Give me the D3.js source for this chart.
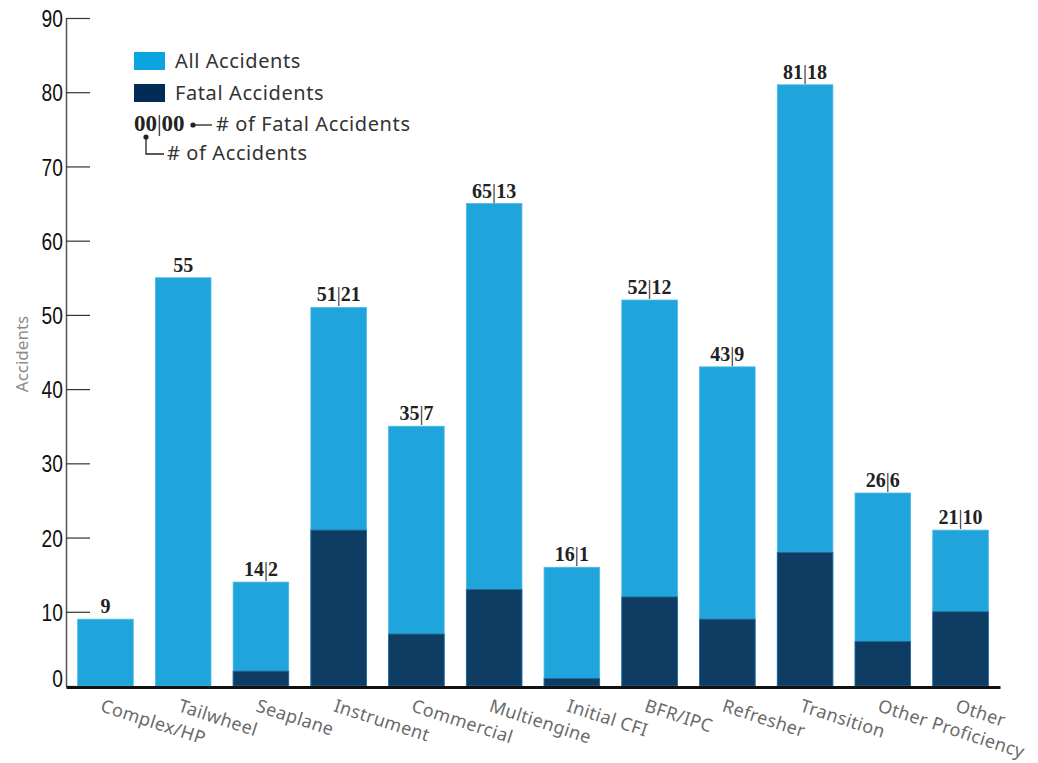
<!DOCTYPE html>
<html>
    <head>
        <style>
body {
    margin: 0;
    background: #fff;
}
.tick text {
    font-family: "Liberation Sans", Arial, sans-serif;
    font-size: 24px;
    fill: #111;
}
.xlabel {
    font-family: "Noto Sans", sans-serif;
    font-size: 18px;
    letter-spacing: 0.4px;
    fill: #6a6a6a;
}
.legend {
    font-family: "Noto Sans", sans-serif;
    font-size: 20px;
    letter-spacing: 0.6px;
    fill: #333;
}
.val {
    font-family: "Liberation Serif", "DejaVu Serif", serif;
    font-size: 20px;
    font-weight: bold;
    fill: #222;
}
        </style>
    </head>
    <body>
        <div id="chart"></div>
        <script src="https://d3js.org/d3.v7.min.js"></script>
        <script>
const categories = ["Complex/HP", "Tailwheel", "Seaplane", "Instrument", "Commercial", "Multiengine",
    "Initial CFI", "BFR/IPC", "Refresher", "Transition", "Other Proficiency", "Other"]
const allAccidents = [9, 55, 14, 51, 35, 65, 16, 52, 43, 81, 26, 21]
const fatalAccidents = [0, 0, 2, 21, 7, 13, 1, 12, 9, 18, 6, 10]
const yTicks = [0, 10, 20, 30, 40, 50, 60, 70, 80, 90]

const lightBlue = "#1fa5dc"
const darkBlue = "#0f3c63"

const width = 1038, height = 763
const svg = d3.select("#chart").append("svg")
    .attr("width", width)
    .attr("height", height)

const x = d3.scaleBand()
    .domain(categories)
    .range([66, 1000])
    .paddingInner(0.285)
    .paddingOuter(0.15)
const y = d3.scaleLinear()
    .domain([0, 90])
    .range([686, 18])

const data = categories.map((c, i) => ({cat: c, all: allAccidents[i], fatal: fatalAccidents[i]}))

// y axis
const yAxis = svg.append("g")
    .attr("transform", "translate(66,0)")
    .call(d3.axisLeft(y).tickValues(yTicks).tickSizeInner(-24).tickSizeOuter(0).tickPadding(4))
yAxis.select(".domain").attr("stroke", "#555").attr("stroke-width", 1.5)
yAxis.selectAll(".tick line").attr("stroke", "#333").attr("stroke-width", 1.2)
yAxis.selectAll(".tick text")
    .attr("dy", d => d === 0 ? "0" : "0.36em")
    .attr("transform", "scale(0.8,1)")

svg.append("text")
    .attr("transform", "translate(28,354) rotate(-90)")
    .attr("text-anchor", "middle")
    .style("font-family", "'Noto Sans', sans-serif")
    .style("font-size", "17px")
    .style("fill", "#8a8a8a")
    .text("Accidents")

// bars
svg.selectAll(".all")
    .data(data)
    .enter()
    .append("rect")
    .attr("class", "all")
    .attr("x", d => x(d.cat))
    .attr("width", x.bandwidth())
    .attr("y", d => y(d.all))
    .attr("height", d => y(0) - y(d.all))
    .attr("fill", lightBlue)
    .attr("stroke", "#4bb8e6")
    .attr("stroke-width", 0.8)

svg.selectAll(".fatal")
    .data(data.filter(d => d.fatal > 0))
    .enter()
    .append("rect")
    .attr("class", "fatal")
    .attr("x", d => x(d.cat))
    .attr("width", x.bandwidth())
    .attr("y", d => y(d.fatal))
    .attr("height", d => y(0) - y(d.fatal))
    .attr("fill", darkBlue)
    .attr("stroke", "#2a6a98")
    .attr("stroke-width", 0.8)

// value labels
const vals = svg.selectAll(".val")
    .data(data)
    .enter()
    .append("text")
    .attr("class", "val")
    .attr("x", d => x(d.cat) + x.bandwidth() / 2)
    .attr("y", d => y(d.all) - 6)
    .attr("text-anchor", "middle")
vals.append("tspan").text(d => d.all)
vals.filter(d => d.fatal > 0).append("tspan").style("font-weight", "normal").text("|")
vals.filter(d => d.fatal > 0).append("tspan").text(d => d.fatal)

// x axis
const xAxis = svg.append("g")
    .attr("transform", "translate(0,687)")
    .call(d3.axisBottom(x).tickSize(0).tickFormat(""))
xAxis.select(".domain").attr("stroke", "#111").attr("stroke-width", 3)

svg.selectAll(".xlabel")
    .data(categories)
    .enter()
    .append("text")
    .attr("class", "xlabel")
    .attr("transform", d => "translate(" + (x(d) + x.bandwidth() / 2 - 6) + ",711) rotate(18)")
    .text(d => d)

// legend
svg.append("rect").attr("x", 134).attr("y", 52).attr("width", 31).attr("height", 18).attr("fill", "#0aa5e1")
svg.append("rect").attr("x", 134).attr("y", 84).attr("width", 31).attr("height", 18).attr("fill", "#022b55")
svg.append("text").attr("class", "legend").attr("x", 175).attr("y", 68).text("All Accidents")
svg.append("text").attr("class", "legend").attr("x", 175).attr("y", 100).text("Fatal Accidents")

const key = svg.append("text").attr("class", "val").attr("x", 134).attr("y", 131).style("font-size", "23px")
key.append("tspan").text("00")
key.append("tspan").style("font-weight", "normal").text("|")
key.append("tspan").text("00")
svg.append("circle").attr("cx", 193).attr("cy", 125).attr("r", 2.6).attr("fill", "#222")
svg.append("line").attr("x1", 193).attr("y1", 125).attr("x2", 212).attr("y2", 125).attr("stroke", "#222").attr("stroke-width", 1.3)
svg.append("text").attr("class", "legend").attr("x", 216).attr("y", 131).text("# of Fatal Accidents")
svg.append("circle").attr("cx", 146).attr("cy", 137).attr("r", 2.6).attr("fill", "#222")
svg.append("path").attr("d", "M146,137V154H164").attr("fill", "none").attr("stroke", "#222").attr("stroke-width", 1.3)
svg.append("text").attr("class", "legend").attr("x", 167).attr("y", 160).text("# of Accidents")
        </script>
    </body>
</html>
